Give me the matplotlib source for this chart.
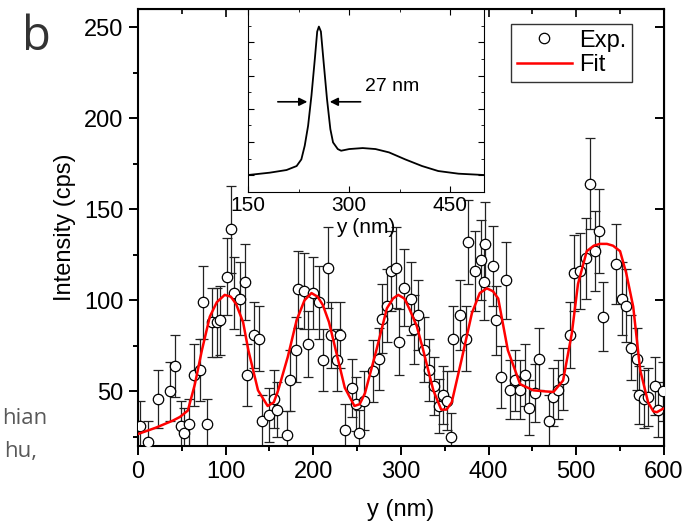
import numpy as np
import matplotlib
matplotlib.use("Agg")
import matplotlib.pyplot as plt
from matplotlib.ticker import MultipleLocator, NullFormatter

plt.rcParams['font.family'] = ['Liberation Sans', 'DejaVu Sans']

# measured points (y position in nm, intensity in cps, error)
exp_y = [2, 12, 23, 37, 42, 49, 53, 58, 64, 71, 74, 79, 85, 90, 94, 102, 106, 110,
         117, 122, 125, 132, 138, 142, 149, 155, 159, 170, 173, 180, 183, 190, 194,
         200, 207, 211, 217, 220, 227, 231, 236, 244, 249, 252, 258, 268, 275, 278,
         284, 289, 294, 298, 303, 312, 315, 320, 326, 332, 338, 344, 348, 353, 357,
         360, 367, 374, 377, 385, 391, 395, 396, 405, 409, 414, 420, 425, 430, 436,
         441, 446, 453, 458, 469, 474, 479, 485, 493, 497, 504, 511, 516, 521, 526,
         531, 545, 552, 557, 562, 569, 572, 577, 582, 590, 593, 599]
exp_i = [31, 22, 46, 50, 64, 31, 27, 32, 59, 62, 99, 32, 88, 88, 89, 113, 139, 104,
         101, 110, 59, 81, 79, 34, 37, 46, 40, 26, 56, 73, 106, 105, 76,
         104, 99, 67, 118, 81, 67, 81, 29, 52, 43, 27, 45, 61, 68, 90,
         97, 116, 118, 77, 107, 101, 84, 92, 73, 62, 53, 42, 48, 45, 25,
         79, 92, 79, 132, 116, 122, 110, 131, 119, 89, 58, 111, 51, 56, 51,
         59, 41, 49, 68, 34, 47, 51, 57, 81, 115, 116, 123, 164, 127, 138,
         91, 120, 101, 97, 74, 68, 48, 46, 47, 53, 40, 50]
exp_err = [14, 12, 16, 16, 17, 14, 14, 14, 17, 17, 20, 14, 19, 19, 19, 21, 24, 20,
           20, 21, 17, 18, 18, 14, 15, 16, 15, 13, 17, 18, 21, 21, 18,
           20, 20, 17, 22, 18, 17, 18, 14, 16, 15, 13, 16, 17, 17, 19,
           20, 22, 22, 18, 21, 20, 19, 19, 18, 17, 16, 15, 16, 16, 13,
           18, 19, 18, 23, 22, 22, 21, 23, 22, 19, 17, 21, 16, 17, 16,
           17, 15, 16, 17, 14, 16, 16, 17, 18, 21, 21, 22, 25, 22, 23,
           19, 22, 20, 20, 18, 17, 16, 16, 16, 16, 15, 16]

# fitted curve
fit_y = [0, 20, 40, 48, 57, 65, 73, 82, 90, 99, 106, 112, 120, 126, 137, 148, 155,
         160, 171, 181, 190, 198, 205, 211, 218, 225, 236, 247, 253, 259, 272, 284,
         291, 297, 304, 310, 318, 325, 337, 346, 352, 358, 369, 381, 390, 398, 405,
         411, 422, 436, 451, 465, 474, 485, 495, 502, 512, 520, 527, 535, 542, 550,
         557, 565, 573, 582, 588, 592, 599]
fit_i = [26.6, 30, 34, 36, 39.5, 54, 72.6, 91, 99, 103, 102, 98, 88, 72.6, 50.6, 42, 44,
         50.6, 69, 89, 100, 104, 102, 97.4, 88, 74, 52, 42, 43, 49, 72.6, 95.6,
         101, 103, 101, 95, 86, 73.5, 50.6, 40, 40, 44, 67, 93, 104, 106.6, 105,
         101, 72.6, 54, 50.6, 50, 49.7, 56, 82, 109, 127, 130, 131, 131, 130, 127,
         115, 96.5, 61.6, 44, 39, 38.6, 40.5]

# inset: line scan profile
ins_y = [150, 182, 207, 222, 229, 234, 239, 244, 249, 252.5, 255, 258, 262, 267,
         272, 276, 283, 288, 300, 320, 339, 359, 383, 408, 432, 462, 500]
ins_v = [0.01, 0.08, 0.16, 0.28, 0.48, 0.89, 1.49, 2.4, 3.5, 4.32, 4.47, 4.32, 3.41,
         2.3, 1.39, 0.99, 0.79, 0.74, 0.79, 0.82, 0.79, 0.69, 0.48, 0.28, 0.13, 0.05, 0.01]

fig = plt.figure(figsize=(6.93, 5.26), dpi=100)
ax = fig.add_axes([0.199, 0.152, 0.759, 0.831])

ax.errorbar(exp_y, exp_i, yerr=exp_err, fmt='none', ecolor='#222222',
            elinewidth=0.9, capsize=3.5, capthick=0.9, zorder=2)
ax.plot(exp_y, exp_i, 'o', ms=7.5, mfc='white', mec='black', mew=0.9,
        zorder=3, label='Exp.')
ax.plot(fit_y, fit_i, '-', color='#ff0000', lw=1.8, zorder=4, label='Fit')

ax.set_xlim(0, 600)
ax.set_ylim(20, 260)
ax.set_xticks([0, 100, 200, 300, 400, 500, 600])
ax.set_yticks([50, 100, 150, 200, 250])
ax.xaxis.set_minor_locator(MultipleLocator(50))
ax.yaxis.set_minor_locator(MultipleLocator(25))
ax.tick_params(which='both', direction='out', top=False, right=False,
               labelsize=17, width=1.4, pad=4)
ax.tick_params(which='major', length=6.5)
ax.tick_params(which='minor', length=3.5)
for s in ax.spines.values():
    s.set_linewidth(1.5)

top = ax.secondary_xaxis('top')
top.set_xticks([0, 100, 200, 300, 400, 500, 600])
top.xaxis.set_minor_locator(MultipleLocator(50))
top.tick_params(which='both', direction='in', labeltop=False, width=1.2)
top.tick_params(which='major', length=6)
top.tick_params(which='minor', length=3.5)
right = ax.secondary_yaxis('right')
right.set_yticks([50, 100, 150, 200, 250])
right.tick_params(direction='in', labelright=False, length=6.5, width=1.4)

ax.set_xlabel('y (nm)', fontsize=17, labelpad=12)
ax.set_ylabel('Intensity (cps)', fontsize=17, labelpad=6)

leg = ax.legend(loc='upper right', bbox_to_anchor=(0.939, 0.966), borderaxespad=0,
                fontsize=17, frameon=True, fancybox=False, handlelength=2.3,
                handletextpad=0.3, borderpad=0.25, labelspacing=0.1)
leg.get_frame().set_edgecolor('black')
leg.get_frame().set_linewidth(1.0)

# inset
ins = fig.add_axes([0.358, 0.635, 0.3405, 0.348])
ins.plot(ins_y, ins_v, color='black', lw=1.3)
ins.set_xlim(150, 500)
ins.set_ylim(-0.5, 5.0)
ins.set_xticks([150, 300, 450])
ins.xaxis.set_minor_locator(MultipleLocator(75))
ins.set_yticks([0, 1, 2, 3, 4])
ins.yaxis.set_minor_locator(MultipleLocator(0.5))
ins.yaxis.set_major_formatter(NullFormatter())
ins.tick_params(which='both', direction='in', top=True, right=True,
                labelsize=15, pad=3)
ins.tick_params(which='major', length=4)
ins.tick_params(which='minor', length=2.5)
ins.set_xlabel('y (nm)', fontsize=15, labelpad=2)
ins.annotate('', xy=(242, 2.21), xytext=(190, 2.21),
             arrowprops=dict(arrowstyle='-|>', color='black', lw=1.2, mutation_scale=12))
ins.annotate('', xy=(267, 2.21), xytext=(321, 2.21),
             arrowprops=dict(arrowstyle='-|>', color='black', lw=1.2, mutation_scale=12))
ins.text(324, 2.67, '27 nm', fontsize=14, va='center', ha='left')

fig.text(22 / 693, 1 - 50 / 526, 'b', fontsize=34, color='#333333',
         family=['Open Sans', 'DejaVu Sans'], ha='left', va='baseline')
fig.text(47 / 693, 1 - 424 / 526, 'hian', fontsize=16, color='#595959',
         family=['Open Sans', 'DejaVu Sans'], ha='right', va='baseline')
fig.text(37 / 693, 1 - 457 / 526, 'hu,', fontsize=16, color='#595959',
         family=['Open Sans', 'DejaVu Sans'], ha='right', va='baseline')

fig.savefig('out.png', dpi=100)
